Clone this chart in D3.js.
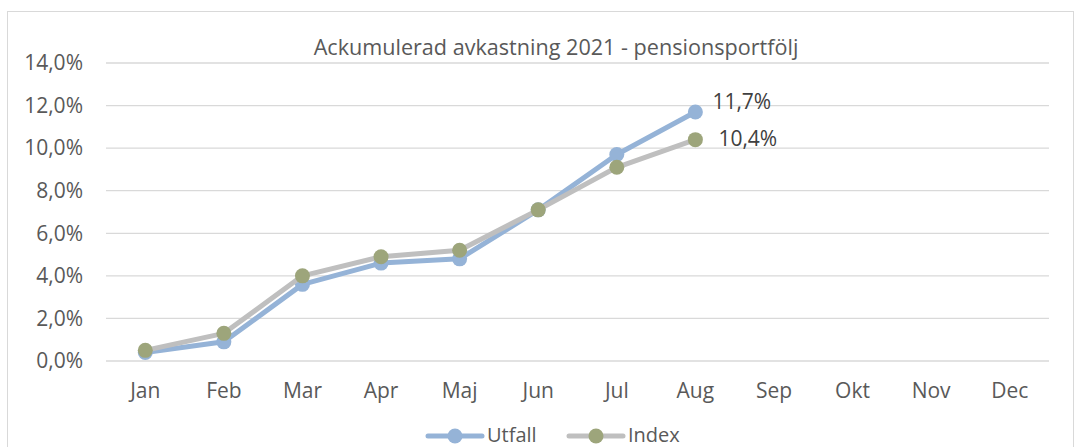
<!DOCTYPE html>
<html>
<head>
<meta charset="utf-8">
<script src="https://cdn.jsdelivr.net/npm/d3@7"></script>
<style>
  body { margin: 0; background: #fff; }
  text { font-family: "Open Sans", "Liberation Sans", sans-serif; }
</style>
</head>
<body>
<div id="chart"></div>
<script>
// data
var months = ["Jan", "Feb", "Mar", "Apr", "Maj", "Jun", "Jul", "Aug", "Sep", "Okt", "Nov", "Dec"];
var utfall = [0.4, 0.9, 3.6, 4.6, 4.8, 7.1, 9.7, 11.7];
var index = [0.5, 1.3, 4.0, 4.9, 5.2, 7.1, 9.1, 10.4];
var yTicks = [0, 2, 4, 6, 8, 10, 12, 14];

var W = 1081, H = 447;
var margin = {top: 63, right: 32, bottom: 86, left: 106};
var width = W - margin.left - margin.right,
    height = H - margin.top - margin.bottom;
var fs = 21;

var svg = d3.select("#chart").append("svg")
  .attr("width", W).attr("height", H);

// outer frame
svg.append("rect")
  .attr("x", 7.5).attr("y", 11.5)
  .attr("width", 1066).attr("height", 440)
  .attr("fill", "none").attr("stroke", "#d9d9d9");

var g = svg.append("g")
  .attr("transform", "translate(" + margin.left + "," + margin.top + ")");

var x = d3.scaleBand().domain(months).range([0, width]);
var y = d3.scaleLinear().domain([0, 14]).range([height, 0]);

// grid
g.selectAll(".grid").data(yTicks).enter().append("line")
  .attr("x1", 0).attr("x2", width)
  .attr("y1", function (d) { return y(d); })
  .attr("y2", function (d) { return y(d); })
  .attr("stroke", "#d9d9d9").attr("stroke-width", 1.3);

// y labels
g.selectAll(".ylab").data(yTicks).enter().append("text")
  .attr("x", -23)
  .attr("y", function (d) { return y(d); })
  .attr("dy", "0.35em")
  .attr("text-anchor", "end")
  .attr("font-size", fs)
  .attr("fill", "#595959")
  .text(function (d) { return d.toFixed(1).replace(".", ",") + "%"; });

// x labels
g.selectAll(".xlab").data(months).enter().append("text")
  .attr("x", function (d) { return x(d) + x.bandwidth() / 2; })
  .attr("y", height + 37)
  .attr("text-anchor", "middle")
  .attr("font-size", fs)
  .attr("fill", "#595959")
  .text(function (d) { return d; });

// title
svg.append("text")
  .attr("x", 556).attr("y", 55)
  .attr("text-anchor", "middle")
  .attr("font-size", 21.6)
  .attr("fill", "#595959")
  .text("Ackumulerad avkastning 2021 - pensionsportfölj");

var cx = function (d, i) { return x(months[i]) + x.bandwidth() / 2; };
var line = d3.line().x(cx).y(function (d) { return y(d); });

var series = [
  {name: "Utfall", values: utfall, line: "#95b3d7", dot: "#95b3d7"},
  {name: "Index", values: index, line: "#bfbfbf", dot: "#9da57b"}
];

series.forEach(function (s) {
  g.append("path")
    .datum(s.values)
    .attr("d", line)
    .attr("fill", "none")
    .attr("stroke", s.line)
    .attr("stroke-width", 5)
    .attr("stroke-linejoin", "round")
    .attr("stroke-linecap", "round");
  g.selectAll(null).data(s.values).enter().append("circle")
    .attr("cx", cx)
    .attr("cy", function (d) { return y(d); })
    .attr("r", 7.5)
    .attr("fill", s.dot);
});

// data labels for last point
var lastU = utfall.length - 1;
g.append("text")
  .attr("x", cx(null, lastU) + 17)
  .attr("y", y(utfall[lastU]) - 3)
  .attr("font-size", fs).attr("fill", "#404040")
  .text(utfall[lastU].toFixed(1).replace(".", ",") + "%");
g.append("text")
  .attr("x", cx(null, lastU) + 23)
  .attr("y", y(index[lastU]) + 6)
  .attr("font-size", fs).attr("fill", "#404040")
  .text(index[lastU].toFixed(1).replace(".", ",") + "%");

// legend
var leg = svg.append("g").attr("transform", "translate(0,436)");
var legItems = [
  {s: series[0], x0: 428},
  {s: series[1], x0: 569}
];
legItems.forEach(function (it) {
  leg.append("line")
    .attr("x1", it.x0).attr("x2", it.x0 + 54)
    .attr("y1", 0).attr("y2", 0)
    .attr("stroke", it.s.line).attr("stroke-width", 5)
    .attr("stroke-linecap", "round");
  leg.append("circle")
    .attr("cx", it.x0 + 27).attr("cy", 0).attr("r", 7.5)
    .attr("fill", it.s.dot);
  leg.append("text")
    .attr("x", it.x0 + 59).attr("y", 0).attr("dy", "0.32em")
    .attr("font-size", 20).attr("fill", "#595959")
    .text(it.s.name);
});
</script>
</body>
</html>
